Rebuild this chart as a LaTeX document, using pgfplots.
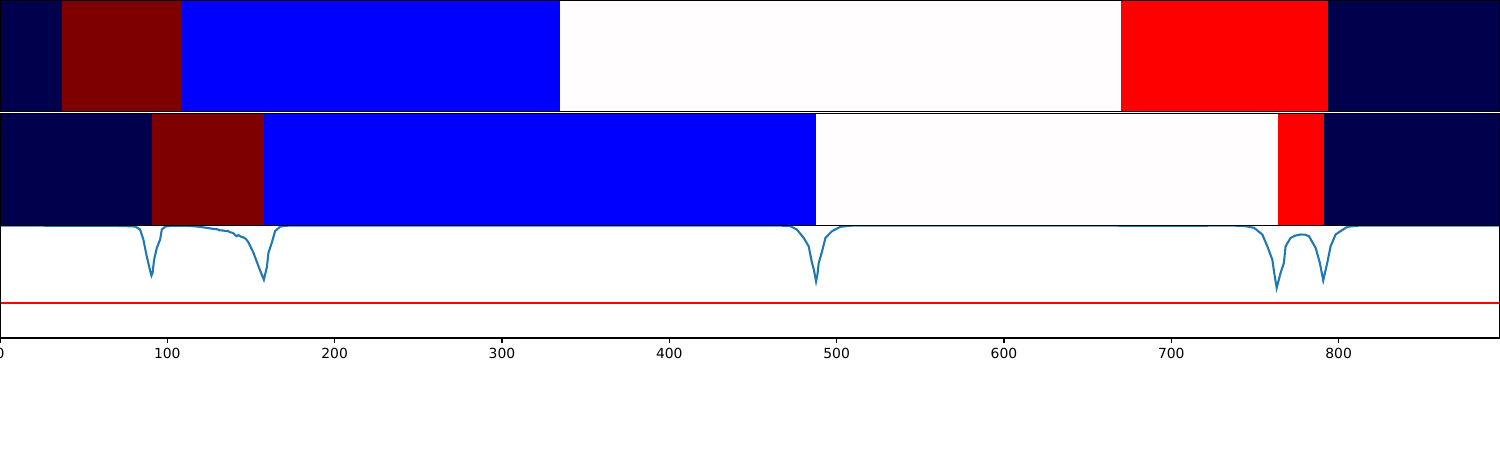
\documentclass[border=0pt]{standalone}
\usepackage{pgfplots}
\pgfplotsset{compat=1.18}
\usepackage{fontspec}
\setmainfont{DejaVu Sans}
\definecolor{navy}{RGB}{0,0,76}
\definecolor{dred}{RGB}{127,0,0}
\definecolor{bblue}{RGB}{0,0,255}
\definecolor{wwhite}{RGB}{255,253,253}
\definecolor{rred}{RGB}{255,0,0}
\definecolor{tabblue}{RGB}{31,119,180}
\begin{document}
\begin{tikzpicture}
\pgfplotsset{
  panel/.style={
    scale only axis, width=1079.5bp, xmin=0, xmax=896, ymin=0, ymax=1,
    axis line style={line width=0.8bp, black}, axis on top,
  },
  stripe/.style={panel, height=81bp, xtick=\empty, ytick=\empty},
}
% top panel
\begin{axis}[stripe, at={(0,243.6bp)}, anchor=south west, height=80.4bp]
\addplot[fill=navy, draw=none] coordinates {(0,1) (37.1,1)} \closedcycle;
\addplot[fill=dred, draw=none] coordinates {(37.1,1) (108.6,1)} \closedcycle;
\addplot[fill=bblue, draw=none] coordinates {(108.6,1) (334.8,1)} \closedcycle;
\addplot[fill=wwhite, draw=none] coordinates {(334.8,1) (669.7,1)} \closedcycle;
\addplot[fill=rred, draw=none] coordinates {(669.7,1) (793.8,1)} \closedcycle;
\addplot[fill=navy, draw=none] coordinates {(793.8,1) (896,1)} \closedcycle;
\end{axis}
% middle panel
\begin{axis}[stripe, at={(0,161.64bp)}, anchor=south west, height=80.4bp]
\addplot[fill=navy, draw=none] coordinates {(0,1) (90.7,1)} \closedcycle;
\addplot[fill=dred, draw=none] coordinates {(90.7,1) (157.7,1)} \closedcycle;
\addplot[fill=bblue, draw=none] coordinates {(157.7,1) (487.6,1)} \closedcycle;
\addplot[fill=wwhite, draw=none] coordinates {(487.6,1) (763.9,1)} \closedcycle;
\addplot[fill=rred, draw=none] coordinates {(763.9,1) (791.5,1)} \closedcycle;
\addplot[fill=navy, draw=none] coordinates {(791.5,1) (896,1)} \closedcycle;
\end{axis}
% bottom panel
\begin{axis}[panel, at={(0,80.64bp)}, anchor=south west, height=81bp,
  ytick=\empty, xtick={0,100,...,800}, xtick pos=bottom, tick align=outside,
  major tick length=3.5bp, tick style={line width=0.8bp, black},
  /pgf/number format/assume math mode=true,
  xticklabel style={font=\fontsize{10bp}{12bp}\selectfont},
]
\addplot[rred, line width=1.5bp] coordinates {(0,0.3125) (896,0.3125)};
\addplot[tabblue, line width=1.5bp] coordinates {
(0,1.0) (20,1.0) (30,0.997) (50,0.996) (70,0.996) (78,0.993) (81,0.99)
(83.7,0.964) (85.7,0.875) (87.7,0.726) (89.7,0.60) (90.5,0.555) (91.2,0.58)
(92.1,0.696) (93.7,0.80) (95.7,0.875) (96.7,0.964) (98.7,0.99) (102,0.997)
(110,0.998) (115,0.994) (119.6,0.988) (124,0.978) (127.5,0.97) (130,0.966)
(131,0.958) (133.5,0.955) (135,0.95) (136,0.952) (137.5,0.94) (139,0.935)
(140,0.925) (140.5,0.915) (141.5,0.905) (142.5,0.915) (143.5,0.905)
(144.5,0.897) (145.5,0.895) (147,0.88) (148.5,0.85) (151.5,0.756) (154.5,0.637)
(156,0.58) (157.7,0.518) (159.5,0.63) (160.4,0.756) (162.4,0.845) (164.4,0.95)
(167.4,0.99) (171.4,0.998) (180,1.0) (460,1.0) (468,0.998) (472.3,0.994)
(476.3,0.964) (480.3,0.89) (483.3,0.815) (485.3,0.667) (486.5,0.60)
(487.7,0.503) (488.5,0.56) (489.3,0.667) (491.3,0.77) (493.3,0.89)
(497.3,0.95) (502.2,0.988) (508,0.998) (520,1.0) (650,1.0) (680,0.997)
(700,0.996) (720,0.998) (735,0.999) (743,0.997) (749.4,0.98) (754.4,0.92)
(757.4,0.815) (760.4,0.696) (761.5,0.58) (763,0.444) (765.3,0.578)
(767.3,0.667) (768.3,0.815) (771.3,0.89) (774,0.91) (777.3,0.92) (780,0.918)
(782.3,0.905) (786.3,0.80) (788.8,0.667) (790.8,0.512) (793.2,0.667)
(795.2,0.815) (798.2,0.92) (801.2,0.95) (805.2,0.988) (811.2,0.998)
(820,1.0) (896,1.0)};
\end{axis}
\pgfresetboundingbox
\path[use as bounding box] (0,0) rectangle (1080bp,324bp);
\end{tikzpicture}
\end{document}
